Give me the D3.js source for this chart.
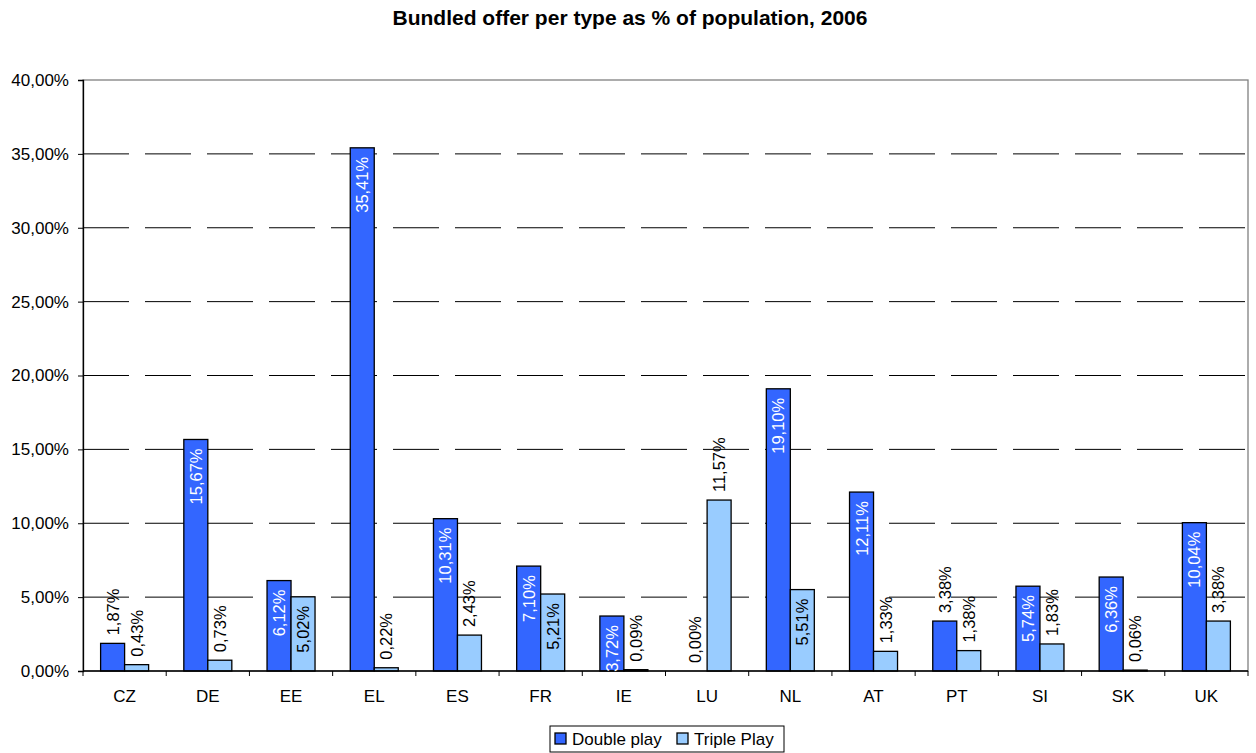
<!DOCTYPE html>
<html><head><meta charset="utf-8">
<script src="https://cdn.jsdelivr.net/npm/d3@7/dist/d3.min.js"></script>
<style>body{margin:0;background:#fff}svg{display:block;font-family:"Liberation Sans",Arial,sans-serif}</style>
</head><body><svg id="c" width="1256" height="753"></svg>
<script>
const categories = ["CZ","DE","EE","EL","ES","FR","IE","LU","NL","AT","PT","SI","SK","UK"];
const doublePlay = [1.87,15.67,6.12,35.41,10.31,7.10,3.72,0.00,19.10,12.11,3.38,5.74,6.36,10.04];
const triplePlay = [0.43,0.73,5.02,0.22,2.43,5.21,0.09,11.57,5.51,1.33,1.38,1.83,0.06,3.38];
const doubleInside = [false,true,true,true,true,true,true,false,true,true,false,true,true,true];
const tripleInside = [false,false,true,false,false,true,false,false,true,false,false,false,false,false];
const yTicks = [0,5,10,15,20,25,30,35,40];
const seriesNames = ["Double play","Triple Play"];
const colors = ["#3366FF","#99CCFF"];
const title = "Bundled offer per type as % of population, 2006";

const svg = d3.select("#c");
const L=83, R=1248, T=80, B=671;
const x = d3.scaleBand().domain(categories).range([L,R]).paddingInner(0).paddingOuter(0);
const y = d3.scaleLinear().domain([0,40]).range([B,T]);
const fmt = v => v.toFixed(2).replace(".",",")+"%";
const FS = 17;

svg.append("text").attr("x",630).attr("y",25).attr("text-anchor","middle")
  .attr("font-weight","bold").attr("font-size",21).text(title);

// plot frame
svg.append("rect").attr("x",L).attr("y",T).attr("width",R-L).attr("height",B-T)
  .attr("fill","none").attr("stroke","#808080").attr("stroke-width",1.3);

// gridlines
svg.append("g").selectAll("line").data(yTicks.filter(t=>t>0&&t<40)).join("line")
  .attr("x1",L).attr("x2",R).attr("y1",d=>y(d)).attr("y2",d=>y(d))
  .attr("stroke","#000").attr("stroke-width",1).attr("stroke-dasharray","46,16");

// y axis
const ya = svg.append("g").attr("transform",`translate(${L},0)`)
  .call(d3.axisLeft(y).tickValues(yTicks).tickSize(5).tickPadding(9).tickFormat(d=>fmt(d)));
ya.select(".domain").attr("stroke","#000").attr("stroke-width",1.3);
ya.selectAll("text").attr("font-size",FS).attr("fill","#000").style("font-family","Liberation Sans, Arial");
ya.selectAll("line").attr("stroke","#000");

// bars
const bw = 24;
const groups = [doublePlay, triplePlay];
const insides = [doubleInside, tripleInside];
groups.forEach((vals, s) => {
  const g = svg.append("g");
  categories.forEach((c,i)=>{
    const cx = x(c)+x.bandwidth()/2;
    const x0 = cx - bw + s*bw;
    const v = vals[i];
    if (v>0) g.append("rect").attr("x",x0).attr("y",y(v)).attr("width",bw).attr("height",B-y(v))
      .attr("fill",colors[s]).attr("stroke","#000").attr("stroke-width",1.3);
  });
});

// x axis
svg.append("line").attr("x1",L).attr("x2",R).attr("y1",B).attr("y2",B).attr("stroke","#000").attr("stroke-width",1.3);
svg.append("g").selectAll("line").data(d3.range(categories.length+1)).join("line")
  .attr("x1",i=>L+i*x.bandwidth()).attr("x2",i=>L+i*x.bandwidth()).attr("y1",B).attr("y2",B+5)
  .attr("stroke","#000");
svg.append("g").selectAll("text").data(categories).join("text")
  .attr("x",d=>x(d)+x.bandwidth()/2).attr("y",702).attr("text-anchor","middle")
  .attr("font-size",FS).text(d=>d);

// labels
groups.forEach((vals,s)=>{
  categories.forEach((c,i)=>{
    const cx = x(c)+x.bandwidth()/2;
    const lx = cx - bw/2 + s*bw + 6;
    const v = vals[i];
    const inside = insides[s][i];
    const ty = inside ? y(v)+9 : y(v)-8;
    svg.append("text").attr("transform",`translate(${lx},${ty}) rotate(-90)`)
      .attr("text-anchor", inside ? "end" : "start")
      .attr("font-size",16.5)
      .attr("fill", inside && s===0 ? "#fff" : "#000")
      .text(fmt(v));
  });
});

// legend
const lg = svg.append("g");
lg.append("rect").attr("x",550).attr("y",726).attr("width",234).attr("height",26)
  .attr("fill","#fff").attr("stroke","#000").attr("stroke-width",1);
const legX = [555, 677];
seriesNames.forEach((n,s)=>{
  lg.append("rect").attr("x",legX[s]).attr("y",733).attr("width",11).attr("height",11)
    .attr("fill",colors[s]).attr("stroke","#000").attr("stroke-width",1.3);
  lg.append("text").attr("x",legX[s]+17).attr("y",745).attr("font-size",FS).text(n);
});
</script></body></html>
